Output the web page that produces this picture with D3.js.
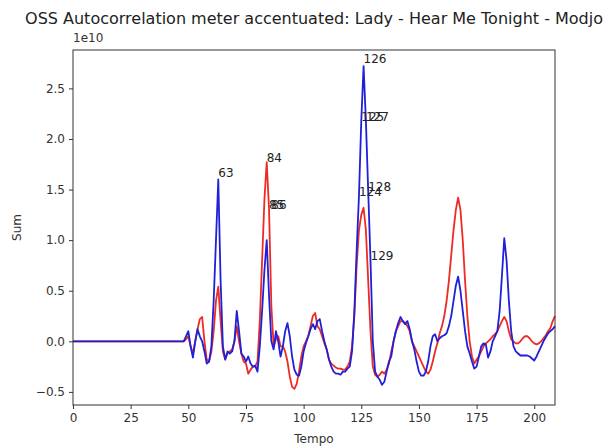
<!DOCTYPE html>
<html>
<head>
<meta charset="utf-8">
<script src="https://cdn.jsdelivr.net/npm/d3@7"></script>
<style>
  body { margin: 0; background: #fff; }
  svg { font-family: "DejaVu Sans", sans-serif; }
</style>
</head>
<body>
<svg id="chart" width="615" height="448"></svg>
<script>
// tempo values (x) and the two sums, in units of 1e10
const tempo = [0, 48, 49, 50, 51, 52, 53, 54, 55, 56, 57, 58, 59, 60, 61, 62, 63, 64, 65, 66, 67, 68, 69, 70,
  71, 72, 73, 74, 75, 76, 77, 78, 79, 80, 81, 82, 83, 84, 85, 86, 87, 88, 89, 90, 91, 92, 93, 94, 95, 96, 97, 98,
  99, 100, 101, 102, 103, 104, 105, 106, 107, 108, 109, 110, 111, 112, 113, 114, 115, 116, 117, 118, 119, 120,
  121, 122, 123, 124, 125, 126, 127, 128, 129, 130, 131, 132, 133, 134, 135, 136, 137, 138, 139, 140, 141, 142,
  143, 144, 145, 146, 147, 148, 149, 150, 151, 152, 153, 154, 155, 156, 157, 158, 159, 160, 161, 162, 163, 164,
  165, 166, 167, 168, 169, 170, 171, 172, 173, 174, 175, 176, 177, 178, 179, 180, 181, 182, 183, 184, 185, 186,
  187, 188, 189, 190, 191, 192, 193, 194, 195, 196, 197, 198, 199, 200, 201, 202, 203, 204, 205, 206, 207, 208, 209];

const redSum = [0, 0, 0.02, 0.05, -0.05, -0.12, 0.0, 0.12, 0.22, 0.24, 0.0, -0.18, -0.2, -0.1, 0.1, 0.4, 0.54, 0.2,
  -0.1, -0.18, -0.12, -0.1, -0.08, 0.0, 0.15, 0.0, -0.12, -0.2, -0.22, -0.32, -0.28, -0.25, -0.25, -0.2, 0.2, 0.8,
  1.4, 1.77, 1.31, 0.35, -0.05, 0.02, 0.05, -0.05, -0.05, -0.1, -0.2, -0.35, -0.45, -0.47, -0.42, -0.3, -0.15,
  -0.05, 0.0, 0.05, 0.15, 0.25, 0.28, 0.15, 0.12, 0.05, -0.02, -0.08, -0.18, -0.22, -0.24, -0.26, -0.27, -0.27,
  -0.28, -0.28, -0.25, -0.2, -0.05, 0.25, 0.75, 1.1, 1.25, 1.32, 1.1, 0.6, 0.1, -0.25, -0.33, -0.35, -0.33, -0.3,
  -0.32, -0.28, -0.22, -0.1, 0.0, 0.1, 0.15, 0.2, 0.2, 0.18, 0.15, 0.1, 0.0, -0.05, -0.1, -0.15, -0.2, -0.25,
  -0.3, -0.32, -0.28, -0.2, -0.1, -0.02, 0.08, 0.15, 0.25, 0.4, 0.6, 0.85, 1.1, 1.3, 1.42, 1.3, 1.0, 0.6, 0.25,
  0.0, -0.15, -0.22, -0.18, -0.15, -0.1, -0.05, -0.02, 0.0, 0.02, 0.05, 0.07, 0.1, 0.15, 0.2, 0.24, 0.2, 0.1,
  0.02, 0.0, -0.02, -0.02, 0.0, 0.03, 0.05, 0.05, 0.03, 0.0, -0.02, -0.03, -0.02, 0.0, 0.03, 0.06, 0.1, 0.13,
  0.2, 0.25];

const blueSum = [0, 0, 0.05, 0.1, -0.05, -0.16, 0.0, 0.12, 0.05, 0.0, -0.1, -0.22, -0.2, -0.05, 0.4, 1.0, 1.6, 0.6,
  -0.05, -0.18, -0.1, -0.12, -0.1, 0.0, 0.3, 0.1, -0.12, -0.15, -0.2, -0.15, -0.22, -0.25, -0.24, -0.3, -0.05,
  0.3, 0.7, 1.0, 0.45, 0.0, -0.08, 0.1, 0.0, -0.15, -0.05, 0.1, 0.18, 0.05, -0.15, -0.28, -0.33, -0.34, -0.25,
  -0.1, -0.02, 0.05, 0.12, 0.17, 0.12, 0.2, 0.22, 0.1, 0.0, -0.08, -0.18, -0.25, -0.3, -0.32, -0.32, -0.33, -0.3,
  -0.3, -0.27, -0.25, -0.1, 0.3, 0.9, 1.44, 2.18, 2.72, 2.18, 1.49, 0.8, 0.0, -0.3, -0.35, -0.38, -0.43, -0.4,
  -0.3, -0.2, -0.15, 0.0, 0.1, 0.18, 0.24, 0.2, 0.17, 0.2, 0.12, 0.0, -0.08, -0.2, -0.3, -0.34, -0.34, -0.3,
  -0.2, -0.05, 0.05, 0.07, 0.0, 0.03, 0.05, 0.06, 0.08, 0.15, 0.25, 0.4, 0.55, 0.64, 0.5, 0.3, 0.1, -0.05, -0.12,
  -0.2, -0.27, -0.25, -0.15, -0.05, -0.02, -0.03, -0.16, -0.1, 0.0, 0.05, 0.1, 0.3, 0.65, 1.02, 0.8, 0.4, 0.1,
  -0.05, -0.1, -0.12, -0.14, -0.14, -0.14, -0.14, -0.15, -0.17, -0.19, -0.15, -0.1, -0.05, 0.0, 0.04, 0.08, 0.1,
  0.12, 0.15];

// peak labels: tempo and height (1e10)
const peakTempo = [63, 84, 85, 86, 124, 125, 126, 127, 128, 129];
const peakValue = [1.62, 1.77, 1.31, 1.31, 1.44, 2.18, 2.75, 2.18, 1.49, 0.80];

const xTicks = [0, 25, 50, 75, 100, 125, 150, 175, 200];
const yTicks = [-0.5, 0.0, 0.5, 1.0, 1.5, 2.0, 2.5];

const svg = d3.select("#chart");
const margin = { left: 73, top: 50, right: 60, bottom: 43 };
const width = 615 - margin.left - margin.right;
const height = 448 - margin.top - margin.bottom;

const x = d3.scaleLinear().domain([0, 209]).range([0, width]);
const yMin = -0.47, yMax = 2.72;
const pad = (yMax - yMin) * 0.05;
const y = d3.scaleLinear().domain([yMin - pad, yMax + pad]).range([height, 0]);

const g = svg.append("g").attr("transform", `translate(${margin.left},${margin.top})`);

const line = d3.line()
    .x((d) => x(d[0]))
    .y((d) => y(d[1]));

g.append("path")
    .datum(tempo.map((t, i) => [t, redSum[i]]))
    .attr("fill", "none")
    .attr("stroke", "#ee2b22")
    .attr("stroke-width", 1.8)
    .attr("stroke-linejoin", "round")
    .attr("d", line);

g.append("path")
    .datum(tempo.map((t, i) => [t, blueSum[i]]))
    .attr("fill", "none")
    .attr("stroke", "#2020d8")
    .attr("stroke-width", 1.8)
    .attr("stroke-linejoin", "round")
    .attr("d", line);

g.selectAll("text.peak")
    .data(peakTempo)
    .join("text")
    .attr("class", "peak")
    .attr("x", (d) => x(d))
    .attr("y", (d, i) => y(peakValue[i]))
    .attr("font-size", 12)
    .attr("fill", "#222")
    .text((d) => d);

// axes
const xAxis = d3.axisBottom(x).tickValues(xTicks).tickSize(4).tickPadding(4).tickFormat(d3.format("d"));
const yAxis = d3.axisLeft(y).tickValues(yTicks).tickSize(4).tickPadding(4)
    .tickFormat((d) => d3.format(".1f")(d).replace("-", "\u2212"));

const gx = g.append("g").attr("transform", `translate(0,${height})`).call(xAxis);
const gy = g.append("g").call(yAxis);
[gx, gy].forEach((a) => {
    a.select(".domain").remove();
    a.selectAll("text").attr("font-size", 12).attr("fill", "#333").attr("font-family", "DejaVu Sans");
    a.selectAll("line").attr("stroke", "#333");
});

g.append("rect")
    .attr("width", width)
    .attr("height", height)
    .attr("fill", "none")
    .attr("stroke", "#333")
    .attr("stroke-width", 1);

svg.append("text")
    .attr("x", margin.left)
    .attr("y", margin.top - 8)
    .attr("font-size", 12)
    .attr("fill", "#333")
    .text("1e10");

svg.append("text")
    .attr("x", margin.left + width / 2)
    .attr("y", 24)
    .attr("text-anchor", "middle")
    .attr("font-size", 16)
    .attr("fill", "#222")
    .text("OSS Autocorrelation meter accentuated: Lady - Hear Me Tonight - Modjo");

svg.append("text")
    .attr("x", margin.left + width / 2)
    .attr("y", 443)
    .attr("text-anchor", "middle")
    .attr("font-size", 12)
    .attr("fill", "#333")
    .text("Tempo");

svg.append("text")
    .attr("transform", `translate(21,${margin.top + height / 2}) rotate(-90)`)
    .attr("text-anchor", "middle")
    .attr("font-size", 12)
    .attr("fill", "#333")
    .text("Sum");
</script>
</body>
</html>
